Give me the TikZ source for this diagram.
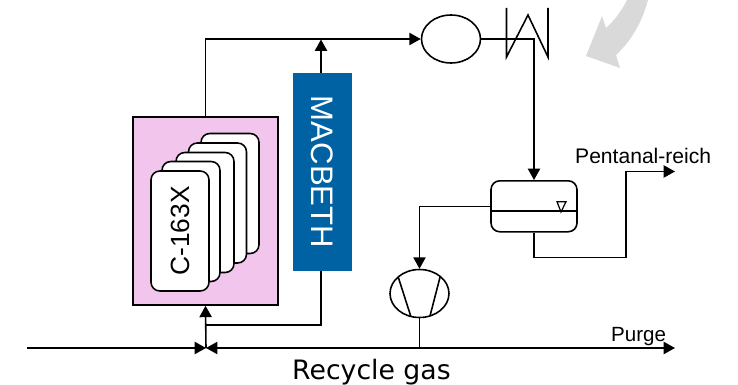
\documentclass[tikz,border=0pt]{standalone}
\usepackage{fontspec}
\setmainfont{Liberation Sans}
\newfontfamily\gasfont{DejaVu Sans}
\usetikzlibrary{arrows.meta,shapes.geometric}
\tikzset{
    pipe/.style={black, line width=0.9pt},
    flow/.style={pipe, -{Triangle[length=6.5pt,width=7pt]}},
    card/.style={draw=black, line width=0.9pt, fill=white, rounded corners=5pt, minimum width=2.4cm, minimum height=1.16cm, inner sep=0pt, rotate=90},
    unit/.style={draw=black, line width=0.9pt, ellipse, minimum width=1.18cm, minimum height=0.96cm, inner sep=0pt}
}
\definecolor{reactorpink}{HTML}{F2C6EC}
\definecolor{macbethblue}{HTML}{0062A3}
\definecolor{hintgray}{HTML}{D9D9D9}
\begin{document}
\begin{tikzpicture}[x=0.02cm, y=-0.02cm]
        \useasboundingbox (0,0) rectangle (738,385);
        \fill[hintgray] (648,0) .. controls (642,22) and (632,40) .. (616,55) -- (620,68) -- (586,56) -- (602,16) -- (606,28) .. controls (615,20) and (622,10) .. (627,0) -- cycle;
        \node[draw=black, line width=0.9pt, fill=reactorpink, minimum width=2.9cm, minimum height=3.76cm, inner sep=0pt] (reactor) at (205.5,211) {};
        \foreach \i/\cx/\cy in {4/230/193.5, 3/217.5/203, 2/205/212.5, 1/191/221.5}{
            \node[card] (card\i) at (\cx,\cy) {};
        }
        \node[card, font=\fontsize{15pt}{15pt}\selectfont] (card0) at (180,231) {C-163X};
        \node[fill=macbethblue, text=white, minimum width=3.96cm, minimum height=1.18cm, inner sep=0pt, rotate=-90, font=\fontsize{17.7pt}{17.7pt}\selectfont] (macbeth) at (322.5,172) {MACBETH};
        \node[unit] (heater) at (451,39) {};
        \node[draw=black, line width=0.9pt, rounded corners=5pt, minimum width=1.72cm, minimum height=1.02cm, inner sep=0pt] (separator) at (534,206.3) {};
        \node[unit] (compressor) at (419.5,293.5) {};
        \draw[pipe] (506.5,8) -- (506.5,57) -- (528,15) -- (548,57) -- (548,8);
        \draw[pipe] (separator.west |- 0,211) -- (separator.east |- 0,211);
        \draw[black, line width=0.7pt] (557,201.7) -- (566,201.7) -- (561,212) -- cycle;
        \draw[pipe] (398.3,277.3) -- (410.7,316);
        \draw[pipe] (440,277.3) -- (430,316);
        \coordinate (feed) at (27,348);
        \coordinate (mix) at (206,348);
        \coordinate (tee) at (419.5,348);
        \coordinate (purgeout) at (675,348);
        \coordinate (pentout) at (675,171.5);
        \coordinate (pentdrop) at (626,257.3);
        \coordinate (macout) at (321,271);
        \coordinate (macjoin) at (321,325);
        \coordinate (topline) at (321,39.5);
        \coordinate (macin) at (321,73);
        \draw[flow] (feed) -- (mix);
        \draw[flow] (tee) -- (mix);
        \draw[flow] (tee) -- (purgeout);
        \draw[pipe] (compressor.south) -- (tee);
        \draw[flow] (mix) -- (reactor.south);
        \draw[pipe] (macout) -- (macjoin) -- (macjoin -| mix);
        \draw[flow] (reactor.north) |- (heater.west);
        \draw[flow] (macin) -- (topline);
        \draw[flow] (heater.east) -| (separator.north);
        \draw[flow] (separator.west) -| (compressor.north);
        \draw[flow] (separator.south) |- (pentdrop) |- (pentout);
        \node[anchor=west, font=\fontsize{12pt}{12pt}\selectfont] (pentanal) at (569,156) {Pentanal-reich};
        \node[anchor=west, font=\fontsize{11.7pt}{11.7pt}\selectfont] (purge) at (605,337) {Purge};
        \node[anchor=west, font=\fontsize{15.2pt}{15.2pt}\selectfont\gasfont] (recycle) at (286,372) {Recycle gas};
    \end{tikzpicture}
\end{document}
